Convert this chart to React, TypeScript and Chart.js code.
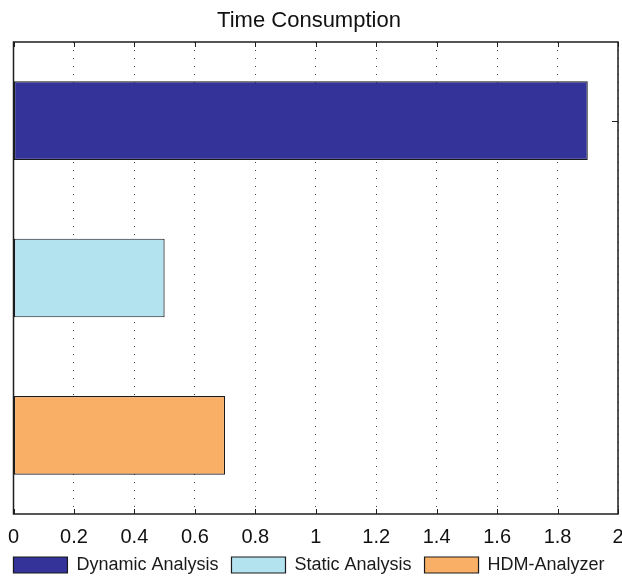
import React, { useEffect, useRef } from "react";
import { Chart, registerables } from "chart.js";

Chart.register(...registerables);

const categories = ["Dynamic Analysis", "Static Analysis", "HDM-Analyzer"];
const dynamicValues = [1.9, null, null];
const staticValues = [null, 0.5, null];
const hdmValues = [null, null, 0.7];
const xTickLabels = ["0", "0.2", "0.4", "0.6", "0.8", "1", "1.2", "1.4", "1.6", "1.8", "2"];
const seriesColors = ["#333399", "#b4e3f0", "#f9b066"];

const FONT = "'Liberation Sans', Arial, Helvetica, sans-serif";

const framePlugin = {
  id: "matlabFrame",
  afterDraw(chart: any) {
    const { ctx, chartArea } = chart;
    const { left, right, top, bottom } = chartArea;
    const xs = chart.scales.x;
    const ys = chart.scales.y;
    ctx.save();
    ctx.strokeStyle = "#1e1e1e";
    ctx.lineWidth = 1.5;
    ctx.strokeRect(left, top, right - left, bottom - top);
    ctx.lineWidth = 1;
    ctx.beginPath();
    xs.ticks.forEach((t: any) => {
      const px = Math.round(xs.getPixelForValue(t.value)) + 0.5;
      ctx.moveTo(px, top);
      ctx.lineTo(px, top + 5);
      ctx.moveTo(px, bottom);
      ctx.lineTo(px, bottom - 5);
    });
    const py = Math.round(ys.getPixelForValue(0)) + 0.5;
    ctx.moveTo(right, py);
    ctx.lineTo(right - 6, py);
    ctx.stroke();
    ctx.restore();
  },
};

export default function App() {
  const ref = useRef<HTMLCanvasElement | null>(null);

  useEffect(() => {
    if (!ref.current) return;
    const datasets = [
      { label: categories[0], data: dynamicValues },
      { label: categories[1], data: staticValues },
      { label: categories[2], data: hdmValues },
    ].map((d, i) => ({
      ...d,
      backgroundColor: seriesColors[i],
      borderColor: "#1a1a1a",
      borderWidth: 1.2,
      borderSkipped: false,
      barPercentage: 0.5,
      categoryPercentage: 1,
      grouped: false,
    }));

    const chart = new Chart(ref.current, {
      type: "bar",
      data: { labels: categories, datasets: datasets as any },
      plugins: [framePlugin],
      options: {
        indexAxis: "y",
        animation: false,
        responsive: false,
        layout: { padding: { left: 0, right: 6, top: 0, bottom: 0 } },
        plugins: {
          title: {
            display: true,
            text: "Time Consumption",
            color: "#111",
            font: { family: FONT, size: 22, weight: "normal" },
            padding: { top: 7.8, bottom: 7.8 },
          },
          legend: {
            display: true,
            position: "bottom",
            labels: {
              boxWidth: 54,
              boxHeight: 16,
              padding: 13,
              color: "#1a1a1a",
              font: { family: FONT, size: 18 },
            },
          },
          tooltip: { enabled: false },
        },
        scales: {
          x: {
            type: "linear",
            min: 0,
            max: 2,
            ticks: {
              stepSize: 0.2,
              autoSkip: false,
              maxRotation: 0,
              padding: 0,
              color: "#111",
              font: { family: FONT, size: 20, lineHeight: "12px" as any },
              callback: (_v: any, i: number) => xTickLabels[i],
            },
            grid: {
              display: true,
              drawTicks: true,
              tickLength: 17,
              tickColor: "rgba(0,0,0,0)",
              color: "#444",
              lineWidth: 1,
            },
            border: { display: false, dash: [1, 7] },
          },
          y: {
            type: "category",
            ticks: { display: false },
            grid: { display: false, drawTicks: false },
            border: { display: false },
            afterFit: (scale: any) => {
              scale.width = 13.5;
            },
          },
        },
      },
    });
    return () => chart.destroy();
  }, []);

  return (
    <div
      style={{
        position: "absolute",
        left: 0,
        top: 0,
        width: 622,
        height: 578,
        overflow: "hidden",
        background: "#fff",
      }}
    >
      <canvas
        ref={ref}
        width={624}
        height={584}
        style={{ display: "block", position: "absolute", left: 0, top: 0 }}
      />
    </div>
  );
}
